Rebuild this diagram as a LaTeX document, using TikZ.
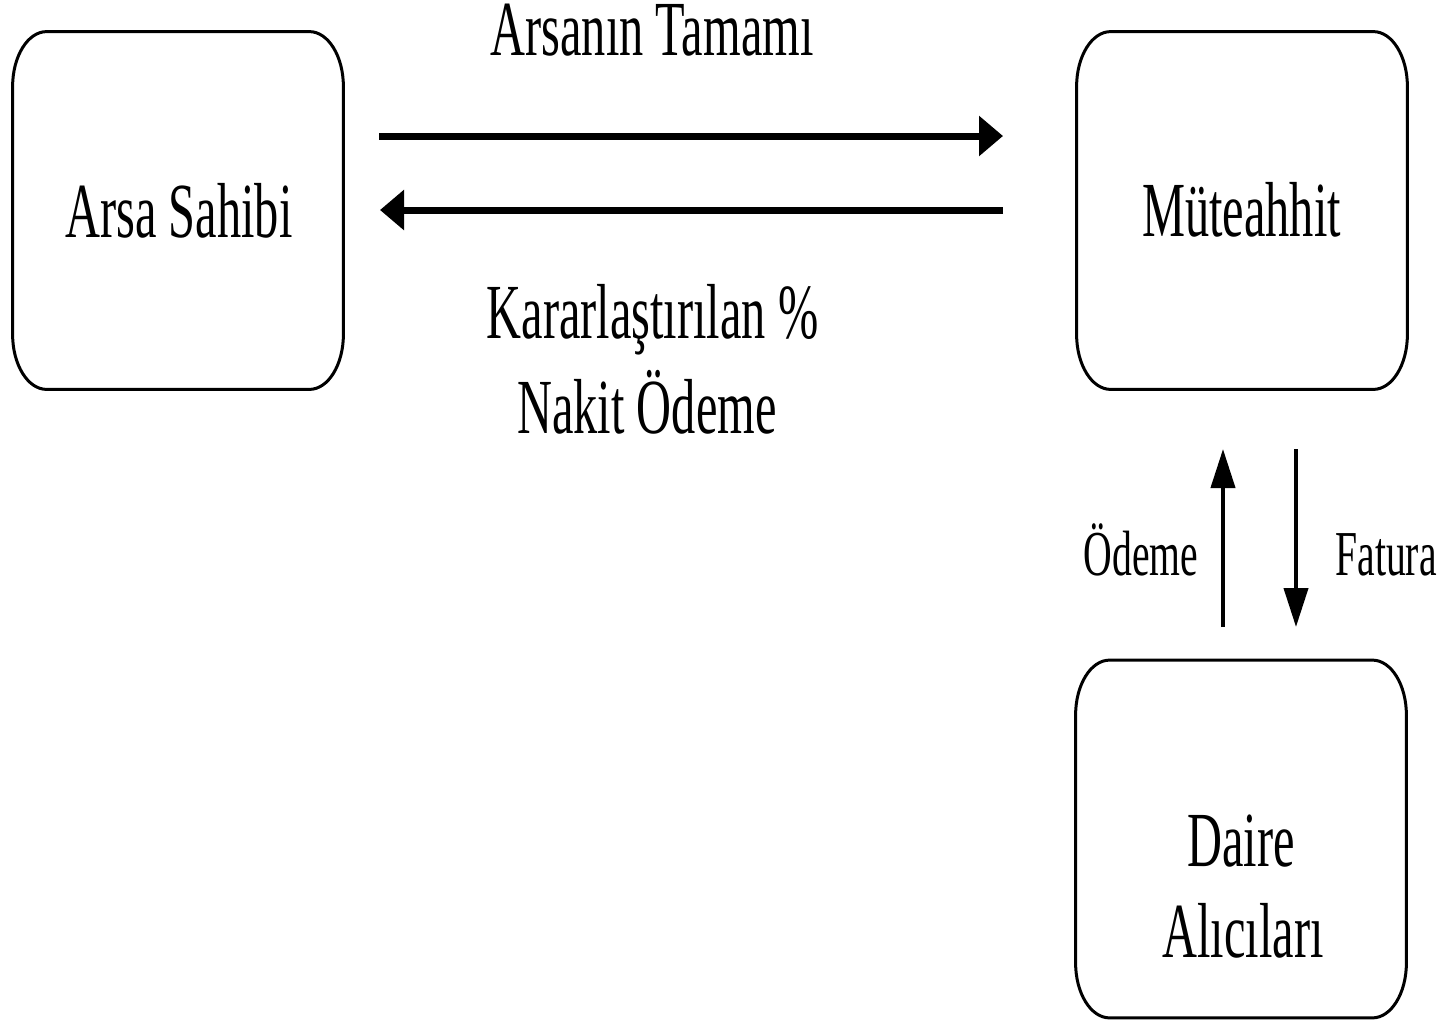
\documentclass[tikz,border=0pt]{standalone}
\usepackage{fontspec}
\setmainfont{Liberation Serif}[FakeStretch=0.62]
\usetikzlibrary{arrows.meta,calc}
\tikzset{
  boxline/.style={draw=black,line width=1.5pt},
  holder/.style={draw=none,inner sep=0pt,minimum width=165pt,minimum height=178.5pt},
  bigtext/.style={inner sep=0pt,anchor=base,font=\fontsize{39}{46}\selectfont},
  smalltext/.style={inner sep=0pt,anchor=base,font=\fontsize{32}{38}\selectfont},
  harrow/.style={line width=3.5pt,-{Triangle[length=12pt,width=19.5pt]}},
  varrow/.style={line width=2pt,-{Triangle[length=19.5pt,width=12pt]}}
}
\newcommand\myroundbox[1]{%
  \draw[boxline] ($(#1.north west)+(34,0)$) -- ($(#1.north east)+(-34,0)$)
    arc[start angle=-90,end angle=0,x radius=34,y radius=55]
    -- ($(#1.south east)+(0,-55)$)
    arc[start angle=0,end angle=90,x radius=34,y radius=55]
    -- ($(#1.south west)+(34,0)$)
    arc[start angle=90,end angle=180,x radius=34,y radius=55]
    -- ($(#1.north west)+(0,55)$)
    arc[start angle=180,end angle=270,x radius=34,y radius=55] -- cycle;}
\begin{document}
\begin{tikzpicture}[x=0.5pt,y=-0.5pt]
\useasboundingbox (0,0) rectangle (1448,1019);
% boxes
\node[holder] (arsa) at (178,210.5) {};
\node[holder] (mut) at (1242,210.5) {};
\node[holder] (daire) at (1241,839) {};
\myroundbox{arsa}
\myroundbox{mut}
\myroundbox{daire}
% box texts
\node[bigtext] (tarsa) at (179,237) {Arsa Sahibi};
\node[bigtext] (tmut) at (1241.5,236) {Müteahhit};
\node[bigtext] (tdaire1) at (1241,866) {Daire};
\node[bigtext] (tdaire2) at (1243,957) {Alıcıları};
% arrow labels
\node[bigtext] (ltam) at (652,55) {Arsanın Tamamı};
\node[bigtext] (lkar1) at (652.5,338) {Kararlaştırılan \%};
\node[bigtext] (lkar2) at (647,433) {Nakit Ödeme};
\node[smalltext] (lode) at (1141,575) {Ödeme};
\node[smalltext] (lfat) at (1386,575) {Fatura};
% connector ends
\coordinate (h1a) at (379,136);
\coordinate (h1b) at (1003,136);
\coordinate (h2a) at (1003,210);
\coordinate (h2b) at (380,210);
\coordinate (v1a) at (1223,627);
\coordinate (v1b) at (1223,449);
\coordinate (v2a) at (1296,449);
\coordinate (v2b) at (1296,627);
\draw[harrow] (h1a) -- (h1b);
\draw[harrow] (h2a) -- (h2b);
\draw[varrow] (v1a) -- (v1b);
\draw[varrow] (v2a) -- (v2b);
\end{tikzpicture}
\end{document}
